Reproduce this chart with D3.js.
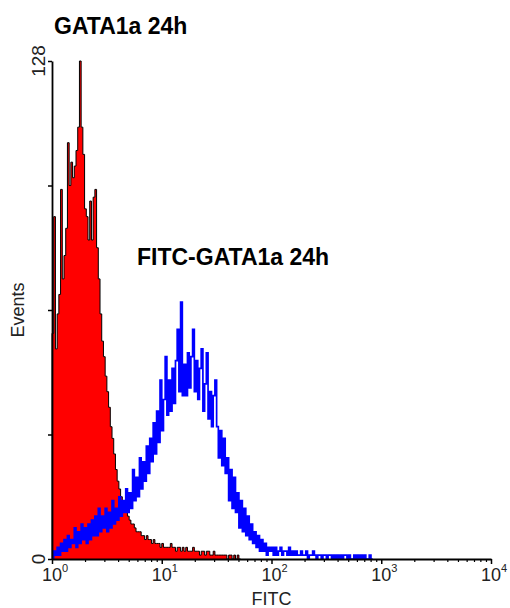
<!DOCTYPE html>
<html>
<head>
<meta charset="utf-8">
<script src="https://cdn.jsdelivr.net/npm/d3@7"></script>
<style>
  body { margin: 0; background: #fff; }
  text { font-family: "Liberation Sans", Arial, sans-serif; }
</style>
</head>
<body>
<svg id="chart"></svg>
<script>
var width = 510;
var height = 608;

// 64 channels per decade, counts (channel 0 starts at 10^0)
var channelsPerDecade = 64;

var controlCounts = [
  58, 88, 54, 63, 68, 95, 72, 78, 85, 107,
  96, 102, 98, 101, 105, 111, 128, 111, 104, 90,
  88, 82, 92, 82, 93, 95, 80, 72, 63, 56,
  52, 47, 43, 39, 34, 31, 27, 23, 20, 18,
  16, 15, 13, 12, 11, 10, 9, 9, 8, 7,
  7, 7, 6, 6, 5, 6, 5, 5, 4, 5,
  4, 4, 4, 3, 4, 3, 3, 3, 3, 4,
  3, 3, 2, 3, 3, 2, 3, 2, 3, 2,
  2, 2, 3, 2, 2, 2, 1, 2, 2, 1,
  2, 2, 1, 1, 2, 1, 1, 1, 1, 1,
  1, 1, 0, 1, 1, 0, 1, 0, 1, 0
];

var fitcCounts = [
  0, 2, 1, 3, 1, 4, 2, 5, 2, 6,
  3, 5, 4, 8, 3, 7, 4, 9, 5, 8,
  4, 9, 5, 10, 6, 11, 6, 13, 7, 11,
  8, 13, 7, 12, 8, 15, 9, 13, 10, 16,
  11, 15, 12, 18, 12, 17, 13, 23, 15, 21,
  16, 26, 18, 25, 20, 29, 22, 31, 25, 35,
  27, 38, 30, 46, 33, 41, 52, 37, 46, 38,
  49, 40, 51, 59, 43, 66, 42, 50, 42, 53,
  44, 52, 59, 43, 51, 41, 49, 54, 38, 45,
  53, 36, 43, 34, 42, 46, 34, 26, 33, 24,
  31, 22, 26, 15, 23, 13, 21, 12, 17, 8,
  15, 7, 13, 6, 11, 5, 9, 4, 7, 3,
  6, 2, 5, 2, 4, 1, 3, 2, 3, 1,
  3, 1, 2, 3, 1, 2, 2, 1, 3, 1,
  2, 1, 2, 1, 1, 2, 1, 1, 2, 0,
  1, 1, 2, 1, 0, 1, 1, 0, 1, 1,
  0, 1, 1, 0, 1, 0, 1, 0, 1, 0,
  1, 1, 0, 1, 0, 0, 1, 0, 1, 0,
  1, 0, 1, 0, 0, 1, 0
];

var decades = [1, 10, 100, 1000, 10000];
var decadeExponents = ["0", "1", "2", "3", "4"];
var yTicks = [0, 32, 64, 96, 128];
var yLabels = [0, 128];

var svg = d3.select("#chart")
  .attr("width", width)
  .attr("height", height);

var x = d3.scaleLog()
  .domain([1, 10000])
  .range([52, 491]);

var y = d3.scaleLinear()
  .domain([0, 128])
  .range([559, 61]);

function toSteps(counts) {
  var pts = [{ e: 0, c: 0 }];
  counts.forEach(function (c, i) {
    pts.push({ e: i, c: c });
  });
  pts.push({ e: counts.length, c: 0 });
  return pts;
}

function edgeX(p) {
  return x(Math.pow(10, p.e / channelsPerDecade));
}

var area = d3.area()
  .x(edgeX)
  .y0(y(0))
  .y1(d => y(d.c))
  .curve(d3.curveStepAfter);

var line = d3.line()
  .x(edgeX)
  .y(d => y(d.c))
  .curve(d3.curveStepAfter);

var controlSteps = toSteps(controlCounts);
var fitcSteps = toSteps(fitcCounts);

svg.append("path")
  .datum(controlSteps)
  .attr("d", area)
  .attr("fill", "#ff0000");

svg.append("path")
  .datum(controlSteps)
  .attr("d", line)
  .attr("fill", "none")
  .attr("stroke", "#000")
  .attr("stroke-width", 1);

svg.append("path")
  .datum(fitcSteps)
  .attr("d", line)
  .attr("fill", "none")
  .attr("stroke", "#0000ff")
  .attr("stroke-width", 1.7);

// minor log ticks
var minorTicks = [];
decades.slice(0, -1).forEach(function (d) {
  for (var k = 2; k < 10; k++) minorTicks.push(d * k);
});

svg.append("g")
  .attr("transform", "translate(0," + y(0) + ")")
  .call(d3.axisBottom(x).tickValues(minorTicks).tickSize(3).tickFormat(""))
  .call(g => g.select(".domain").remove())
  .selectAll("line").attr("stroke-width", 1.2);

var xAxis = svg.append("g")
  .attr("transform", "translate(0," + y(0) + ")")
  .call(d3.axisBottom(x).tickValues(decades).tickSize(5).tickSizeOuter(0).tickFormat(""));

xAxis.select(".domain").attr("stroke-width", 1.8);
xAxis.selectAll("line").attr("stroke-width", 1.5);

decades.forEach(function (d, i) {
  var t = svg.append("text")
    .attr("x", x(d) - 10)
    .attr("y", 581)
    .attr("font-size", 18)
    .attr("fill", "#222");
  t.append("tspan").text("10");
  t.append("tspan")
    .attr("dy", -9)
    .attr("font-size", 11)
    .text(decadeExponents[i]);
});

var yAxis = svg.append("g")
  .attr("transform", "translate(" + x(1) + ",0)")
  .call(d3.axisLeft(y).tickValues(yTicks).tickSize(4).tickSizeOuter(0).tickFormat(""));

yAxis.select(".domain").attr("stroke-width", 1.8);
yAxis.selectAll("line").attr("stroke-width", 1.5);

svg.selectAll(".ylab")
  .data(yLabels)
  .enter()
  .append("text")
    .attr("class", "ylab")
    .attr("transform", d => "translate(45," + y(d) + ") rotate(-90)")
    .attr("text-anchor", "middle")
    .attr("font-size", 19)
    .attr("fill", "#222")
    .text(d => d);

svg.append("text")
  .attr("transform", "translate(24," + (y(0) + y(128)) / 2 + ") rotate(-90)")
  .attr("text-anchor", "middle")
  .attr("font-size", 18)
  .attr("fill", "#222")
  .text("Events");

svg.append("text")
  .attr("x", x(100))
  .attr("y", 605)
  .attr("text-anchor", "middle")
  .attr("font-size", 18)
  .attr("fill", "#222")
  .text("FITC");

svg.append("text")
  .attr("x", 54)
  .attr("y", 34)
  .attr("font-size", 23)
  .attr("font-weight", "bold")
  .text("GATA1a 24h");

svg.append("text")
  .attr("x", 137)
  .attr("y", 265)
  .attr("font-size", 23)
  .attr("font-weight", "bold")
  .text("FITC-GATA1a 24h");
</script>
</body>
</html>
